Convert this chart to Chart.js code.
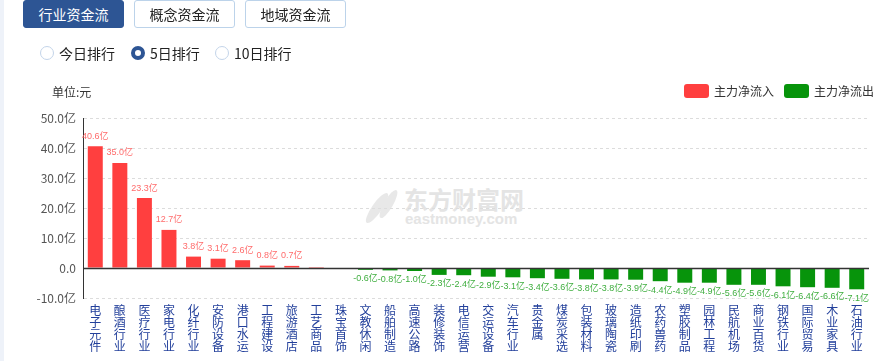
<!DOCTYPE html>
<html>
<head>
<meta charset="utf-8">
<script src="https://cdn.jsdelivr.net/npm/chart.js@4.4.1/dist/chart.umd.min.js"></script>
<style>
  html,body{margin:0;padding:0;background:#fff;width:886px;height:361px;overflow:hidden;
    font-family:"Microsoft YaHei","Noto Sans CJK SC",sans-serif;}
  #wrap{position:relative;width:886px;height:361px;}
  .strip{position:absolute;left:0;top:0;width:4px;height:361px;background:#eef2f9;}
  .btn{position:absolute;top:0;height:28px;width:101px;box-sizing:border-box;border-radius:3px;
    font-size:14px;line-height:27px;text-align:center;color:#222;border:1px solid #bcd3ea;background:#fff;}
  .btn.on{background:#2d5594;border-color:#2d5594;color:#fff;}
  .radio{position:absolute;top:46px;width:14px;height:14px;box-sizing:border-box;border-radius:50%;
    border:1px solid #c3d4e9;background:#fff;}
  .radio.on{border:4px solid #2d5594;}
  .rtxt{position:absolute;top:44px;font-size:14px;line-height:18px;color:#222;}
  .unit{position:absolute;left:52px;top:84px;font-size:12px;line-height:16px;color:#333;}
  .lbox{position:absolute;top:84px;width:25px;height:14px;border-radius:3px;}
  .ltxt{position:absolute;top:83px;font-size:12px;line-height:16px;color:#333;}
  .wm1{position:absolute;left:404px;top:185px;font-size:24px;line-height:28px;color:#e4e4e4;font-weight:bold;letter-spacing:0px;}
  .wm2{position:absolute;left:405px;top:211px;font-size:15px;line-height:16px;color:#e4e4e4;font-weight:bold;font-family:"Liberation Sans",Arial,sans-serif;}
  .sw{position:absolute;background:#e8e8e8;border-radius:50% 50% 50% 50%;}
  canvas{position:absolute;left:0;top:0;}
</style>
</head>
<body>
<div id="wrap">
  <div class="strip"></div>
  <div class="sw" style="left:372px;top:190px;width:10px;height:36px;transform:rotate(35deg);"></div>
  <div class="sw" style="left:384px;top:188px;width:9px;height:32px;transform:rotate(30deg);"></div>
  <div class="wm1">东方财富网</div>
  <div class="wm2">eastmoney.com</div>
  <canvas id="c" width="886" height="361"></canvas>
  <div class="btn on" style="left:23px;">行业资金流</div>
  <div class="btn" style="left:134px;">概念资金流</div>
  <div class="btn" style="left:245px;">地域资金流</div>
  <div class="radio" style="left:40px;"></div><div class="rtxt" style="left:59px;">今日排行</div>
  <div class="radio on" style="left:131px;"></div><div class="rtxt" style="left:150px;">5日排行</div>
  <div class="radio" style="left:215px;"></div><div class="rtxt" style="left:234px;">10日排行</div>
  <div class="unit">单位:元</div>
  <div class="lbox" style="left:684px;background:#ff3f3f;"></div><div class="ltxt" style="left:714px;">主力净流入</div>
  <div class="lbox" style="left:784px;background:#07940b;"></div><div class="ltxt" style="left:814px;">主力净流出</div>
</div>
<script>
const categories = ["电子元件","酿酒行业","医疗行业","家电行业","化纤行业","安防设备","港口水运","工程建设","旅游酒店","工艺商品","珠宝首饰","文教休闲","船舶制造","高速公路","装修装饰","电信运营","交运设备","汽车行业","贵金属","煤炭采选","包装材料","玻璃陶瓷","造纸印刷","农药兽药","塑胶制品","园林工程","民航机场","商业百货","钢铁行业","国际贸易","木业家具","石油行业"];
// net main-force flow, unit: 亿
const netFlow = [40.6,35.0,23.3,12.7,3.8,3.1,2.6,0.8,0.7,0.03,-0.3,-0.6,-0.8,-1.0,-2.3,-2.4,-2.9,-3.1,-3.4,-3.6,-3.8,-3.8,-3.9,-4.4,-4.9,-4.9,-5.6,-5.6,-6.1,-6.4,-6.6,-7.1];
const yMin = -10, yMax = 50, yStep = 10;

const RED = '#ff3f3f', GREEN = '#07940b';

const zeroLine = {
  id:'zeroLine',
  afterDatasetsDraw(chart){
    const {ctx, chartArea, scales:{y}} = chart;
    const py = Math.round(y.getPixelForValue(0)) + 0.5;
    ctx.save();
    ctx.strokeStyle = '#333';
    ctx.lineWidth = 1.3;
    ctx.beginPath(); ctx.moveTo(chartArea.left, py); ctx.lineTo(chartArea.right, py); ctx.stroke();
    ctx.restore();
  }
};
const valueLabels = {
  id:'valueLabels',
  afterDatasetsDraw(chart){
    const {ctx} = chart;
    const meta = chart.getDatasetMeta(0);
    ctx.save();
    ctx.font = '9px "Liberation Sans","Noto Sans CJK SC",sans-serif';
    ctx.textAlign = 'center';
    ctx.textBaseline = 'middle';
    meta.data.forEach((bar, i) => {
      const v = netFlow[i];
      if (Math.abs(v) < 0.5) return;
      const t = v.toFixed(1) + '亿';
      if (v >= 0) { ctx.fillStyle = '#ff6b6b'; ctx.fillText(t, bar.x, bar.y - 10); }
      else { ctx.fillStyle = '#3fae3f'; ctx.fillText(t, bar.x, bar.y + 9); }
    });
    ctx.restore();
  }
};

new Chart(document.getElementById('c'), {
  type:'bar',
  data:{
    labels: categories.map(s => s.split('')),
    datasets:[{
      data: netFlow,
      backgroundColor: netFlow.map(v => v >= 0 ? RED : GREEN),
      borderWidth: 0,
      barPercentage: 0.61,
      categoryPercentage: 1.0
    }]
  },
  options:{
    responsive:false,
    animation:false,
    layout:{padding:{top:118, right:17, left:0, bottom:0}},
    plugins:{legend:{display:false}, tooltip:{enabled:false}},
    scales:{
      x:{
        grid:{display:false, drawTicks:false},
        border:{display:false},
        ticks:{
          autoSkip:false, maxRotation:0, minRotation:0, padding:6,
          color:'#23409b',
          font:{size:12, family:'"Noto Sans CJK SC","Microsoft YaHei",sans-serif', lineHeight:1.0}
        },
        afterFit(s){ s.height = 63; }
      },
      y:{
        min:yMin, max:yMax,
        ticks:{
          stepSize:yStep, padding:7, color:'#555',
          font:{size:12, family:'"Noto Sans CJK SC","Microsoft YaHei",sans-serif'},
          callback:v => v === 0 ? '0.0' : v.toFixed(1) + '亿'
        },
        grid:{drawTicks:false, color: c => (c.tick && c.tick.value === 0) ? 'rgba(0,0,0,0)' : '#dcdcdc', lineWidth:1},
        border:{display:true, color:'#333', width:1, dash:[3,3]},
        afterFit(s){ s.width = 83; }
      }
    }
  },
  plugins:[zeroLine, valueLabels]
});
</script>
</body>
</html>
